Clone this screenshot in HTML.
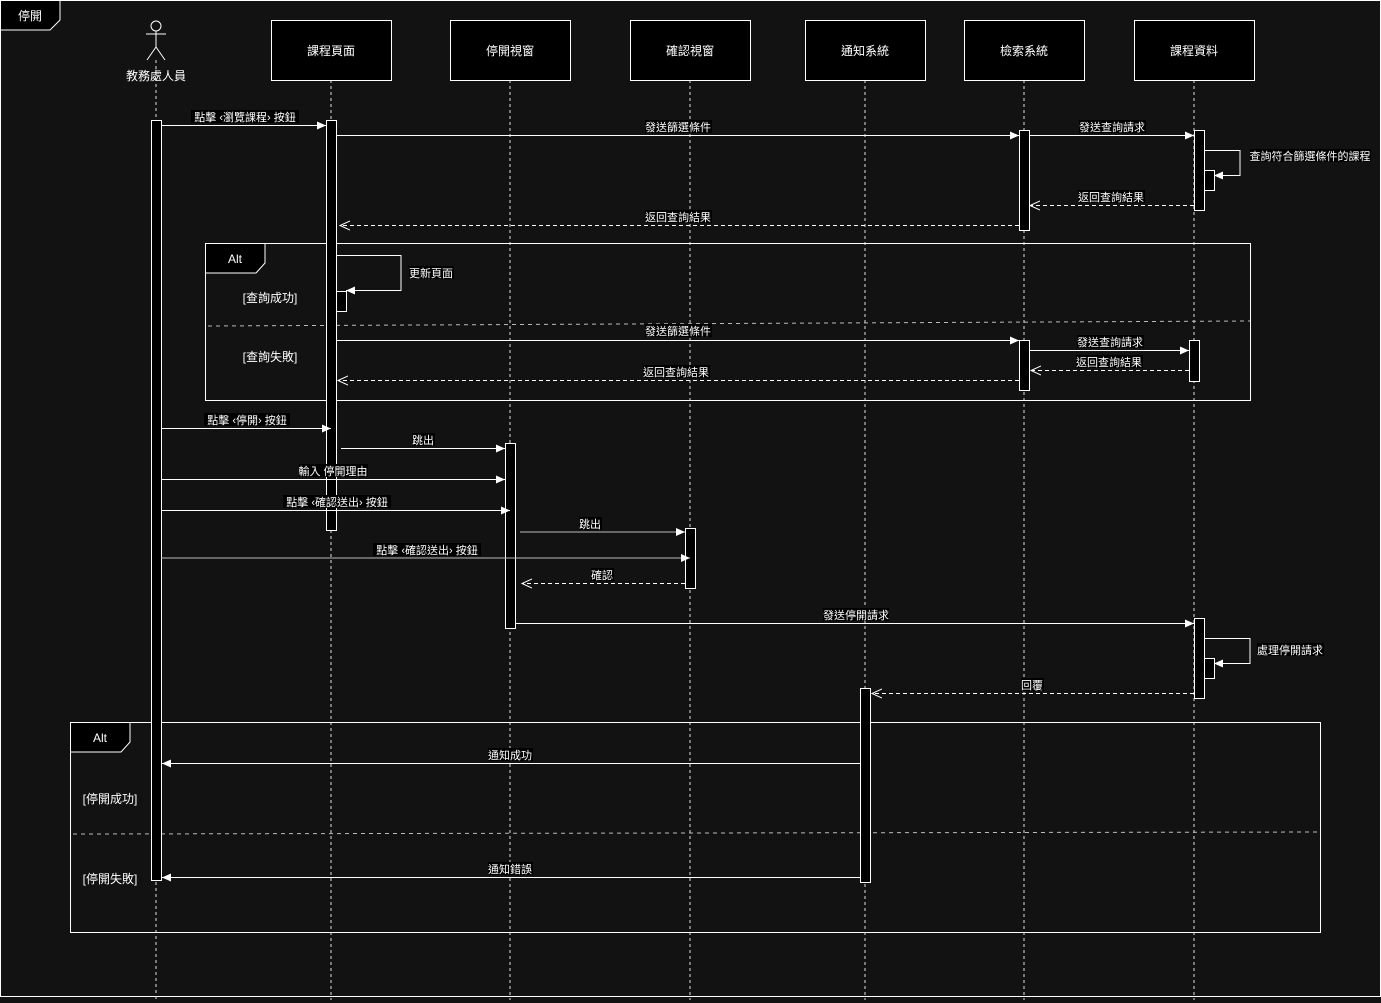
<!DOCTYPE html>
<html><head><meta charset="utf-8"><style>
html,body{margin:0;padding:0;background:#121212;}
svg{display:block;font-family:"Liberation Sans","Noto Sans CJK TC",sans-serif;}
</style></head><body>
<svg width="1381" height="1003" viewBox="0 0 1381 1003" xmlns="http://www.w3.org/2000/svg">
<defs>
<marker id="f" markerWidth="10" markerHeight="10" refX="9" refY="5" orient="auto" markerUnits="userSpaceOnUse"><path d="M0,1 L9,5 L0,9 Z" fill="#fff"/></marker>
<marker id="o" markerWidth="12" markerHeight="12" refX="10" refY="6" orient="auto" markerUnits="userSpaceOnUse"><path d="M0,1.5 L10,6 L0,10.5" fill="none" stroke="#fff" stroke-width="1"/></marker>
</defs>
<rect width="1381" height="1003" fill="#121212"/>
<rect x="0.5" y="0.5" width="1380" height="996" fill="none" stroke="#fff"/>
<path d="M0.5,0.5 H60 V20 L50,30 H0.5 Z" fill="#000" stroke="#fff"/>
<text x="18" y="20" fill="#fff" font-size="12">停開</text>

<!-- lifelines -->
<g stroke="#ddd" stroke-dasharray="3,3" fill="none">
<line x1="156" y1="60" x2="156" y2="1000"/>
<line x1="331" y1="80" x2="331" y2="1000"/>
<line x1="510" y1="80" x2="510" y2="1000"/>
<line x1="690" y1="80" x2="690" y2="1000"/>
<line x1="865" y1="80" x2="865" y2="1000"/>
<line x1="1024" y1="80" x2="1024" y2="1000"/>
<line x1="1194" y1="80" x2="1194" y2="1000"/>
</g>

<!-- actor -->
<g stroke="#fff" fill="none" stroke-width="1">
<circle cx="156" cy="26" r="5"/>
<line x1="156" y1="31" x2="156" y2="47"/>
<line x1="146" y1="34" x2="166" y2="34"/>
<line x1="156" y1="47" x2="147" y2="60"/>
<line x1="156" y1="47" x2="165" y2="60"/>
</g>
<text x="156" y="80" fill="#fff" font-size="12" text-anchor="middle">教務處人員</text>

<!-- boxes -->
<g stroke="#fff" fill="#000">
<rect x="271.5" y="20.5" width="120" height="60"/>
<rect x="450.5" y="20.5" width="120" height="60"/>
<rect x="630.5" y="20.5" width="120" height="60"/>
<rect x="805.5" y="20.5" width="120" height="60"/>
<rect x="964.5" y="20.5" width="120" height="60"/>
<rect x="1134.5" y="20.5" width="120" height="60"/>
</g>
<g fill="#fff" font-size="12" text-anchor="middle">
<text x="331" y="55">課程頁面</text>
<text x="510" y="55">停開視窗</text>
<text x="690" y="55">確認視窗</text>
<text x="865" y="55">通知系統</text>
<text x="1024" y="55">檢索系統</text>
<text x="1194" y="55">課程資料</text>
</g>

<!-- alt frames -->
<g stroke="#fff" fill="none">
<rect x="205.5" y="243.5" width="1045" height="157"/>
<rect x="70.5" y="722.5" width="1250" height="210"/>
</g>
<g stroke="#bbb" stroke-dasharray="4,4">
<line x1="208" y1="326" x2="1250" y2="321"/>
<line x1="73" y1="834" x2="1320" y2="832"/>
</g>
<path d="M205.5,243.5 H265 V263 L256,273 H205.5 Z" fill="#000" stroke="#fff"/>
<text x="235" y="263" fill="#fff" font-size="12" text-anchor="middle">Alt</text>
<path d="M70.5,722.5 H130 V742 L121,752 H70.5 Z" fill="#000" stroke="#fff"/>
<text x="100" y="742" fill="#fff" font-size="12" text-anchor="middle">Alt</text>
<g fill="#fff" font-size="12" text-anchor="middle">
<text x="270" y="302">[查詢成功]</text>
<text x="270" y="361">[查詢失敗]</text>
<text x="110" y="803">[停開成功]</text>
<text x="110" y="883">[停開失敗]</text>
</g>

<!-- activation bars -->
<g stroke="#fff" fill="#000">
<rect x="151.5" y="120.5" width="10" height="760"/>
<rect x="326.5" y="120.5" width="10" height="410"/>
<rect x="1019.5" y="130.5" width="10" height="100"/>
<rect x="1194.5" y="130.5" width="10" height="80"/>
<rect x="1204.5" y="170.5" width="10" height="20"/>
<rect x="336.5" y="291.5" width="10" height="20"/>
<rect x="1019.5" y="340.5" width="10" height="50"/>
<rect x="1189.5" y="340.5" width="10" height="41"/>
<rect x="505.5" y="443.5" width="10" height="185"/>
<rect x="685.5" y="528.5" width="10" height="60"/>
<rect x="1194.5" y="618.5" width="10" height="80"/>
<rect x="1204.5" y="658.5" width="10" height="20"/>
<rect x="860.5" y="688.5" width="10" height="194"/>
</g>

<!-- messages -->
<g stroke="#fff" fill="none">
<line x1="161" y1="125.5" x2="326" y2="125.5" marker-end="url(#f)"/>
<line x1="336" y1="135.5" x2="1019" y2="135.5" marker-end="url(#f)"/>
<line x1="1029" y1="135.5" x2="1194" y2="135.5" marker-end="url(#f)"/>
<path d="M1204,150.5 H1240 V175.5 H1214" marker-end="url(#f)"/>
<line x1="1194" y1="205.5" x2="1030" y2="205.5" stroke-dasharray="4,3" marker-end="url(#o)"/>
<line x1="1019" y1="225.5" x2="340" y2="225.5" stroke-dasharray="4,3" marker-end="url(#o)"/>
<path d="M336,255.5 H401 V290.5 H346" marker-end="url(#f)"/>
<line x1="336" y1="340.5" x2="1019" y2="340.5" marker-end="url(#f)"/>
<line x1="1029" y1="350.5" x2="1189" y2="350.5" marker-end="url(#f)"/>
<line x1="1189" y1="370.5" x2="1031" y2="370.5" stroke-dasharray="4,3" marker-end="url(#o)"/>
<line x1="1019" y1="380.5" x2="338" y2="380.5" stroke-dasharray="4,3" marker-end="url(#o)"/>
<line x1="161" y1="428.5" x2="331" y2="428.5" marker-end="url(#f)"/>
<line x1="341" y1="448.5" x2="505" y2="448.5" marker-end="url(#f)"/>
<line x1="161" y1="479.5" x2="505" y2="479.5" marker-end="url(#f)"/>
<line x1="161" y1="510.5" x2="510" y2="510.5" marker-end="url(#f)"/>
<line x1="520" y1="532" x2="685" y2="532" stroke="#bbb" marker-end="url(#f)"/>
<line x1="161" y1="558" x2="690" y2="558" stroke="#bbb" marker-end="url(#f)"/>
<line x1="685" y1="583.5" x2="522" y2="583.5" stroke-dasharray="4,3" marker-end="url(#o)"/>
<line x1="515" y1="623.5" x2="1194" y2="623.5" marker-end="url(#f)"/>
<path d="M1204,638.5 H1250 V663.5 H1214" marker-end="url(#f)"/>
<line x1="1194" y1="693.5" x2="872" y2="693.5" stroke-dasharray="4,3" marker-end="url(#o)"/>
<line x1="860" y1="763.5" x2="162" y2="763.5" marker-end="url(#f)"/>
<line x1="860" y1="877.5" x2="162" y2="877.5" marker-end="url(#f)"/>
</g>

<!-- labels -->
<g fill="#000">
<rect x="191" y="110" width="108" height="13"/>
<rect x="645" y="120" width="67" height="13"/>
<rect x="1079" y="120" width="67" height="13"/>
<rect x="1250" y="149" width="121" height="13"/>
<rect x="1078" y="190" width="67" height="13"/>
<rect x="645" y="210" width="67" height="13"/>
<rect x="409" y="266" width="45" height="13"/>
<rect x="645" y="324" width="67" height="13"/>
<rect x="1077" y="335" width="67" height="13"/>
<rect x="1076" y="355" width="67" height="13"/>
<rect x="643" y="365" width="67" height="13"/>
<rect x="204" y="413" width="86" height="13"/>
<rect x="412" y="433" width="23" height="13"/>
<rect x="299" y="464" width="69" height="13"/>
<rect x="283" y="495" width="108" height="13"/>
<rect x="579" y="517" width="23" height="13"/>
<rect x="373" y="543" width="108" height="13"/>
<rect x="591" y="568" width="23" height="13"/>
<rect x="823" y="608" width="66" height="13"/>
<rect x="1257" y="643" width="67" height="13"/>
<rect x="1021" y="678" width="23" height="13"/>
<rect x="488" y="748" width="45" height="13"/>
<rect x="488" y="862" width="45" height="13"/>
</g>
<g fill="#fff" font-size="11" text-anchor="middle">
<text x="245" y="121">點擊 ‹瀏覽課程› 按鈕</text>
<text x="678" y="131">發送篩選條件</text>
<text x="1112" y="131">發送查詢請求</text>
<text x="1310" y="160">查詢符合篩選條件的課程</text>
<text x="1111" y="201">返回查詢結果</text>
<text x="678" y="221">返回查詢結果</text>
<text x="431" y="277">更新頁面</text>
<text x="678" y="335">發送篩選條件</text>
<text x="1110" y="346">發送查詢請求</text>
<text x="1109" y="366">返回查詢結果</text>
<text x="676" y="376">返回查詢結果</text>
<text x="247" y="424">點擊 ‹停開› 按鈕</text>
<text x="423" y="444">跳出</text>
<text x="333" y="475">輸入 停開理由</text>
<text x="337" y="506">點擊 ‹確認送出› 按鈕</text>
<text x="590" y="528">跳出</text>
<text x="427" y="554">點擊 ‹確認送出› 按鈕</text>
<text x="602" y="579">確認</text>
<text x="856" y="619">發送停開請求</text>
<text x="1290" y="654">處理停開請求</text>
<text x="1032" y="689">回覆</text>
<text x="510" y="759">通知成功</text>
<text x="510" y="873">通知錯誤</text>
</g>
</svg>
</body></html>
